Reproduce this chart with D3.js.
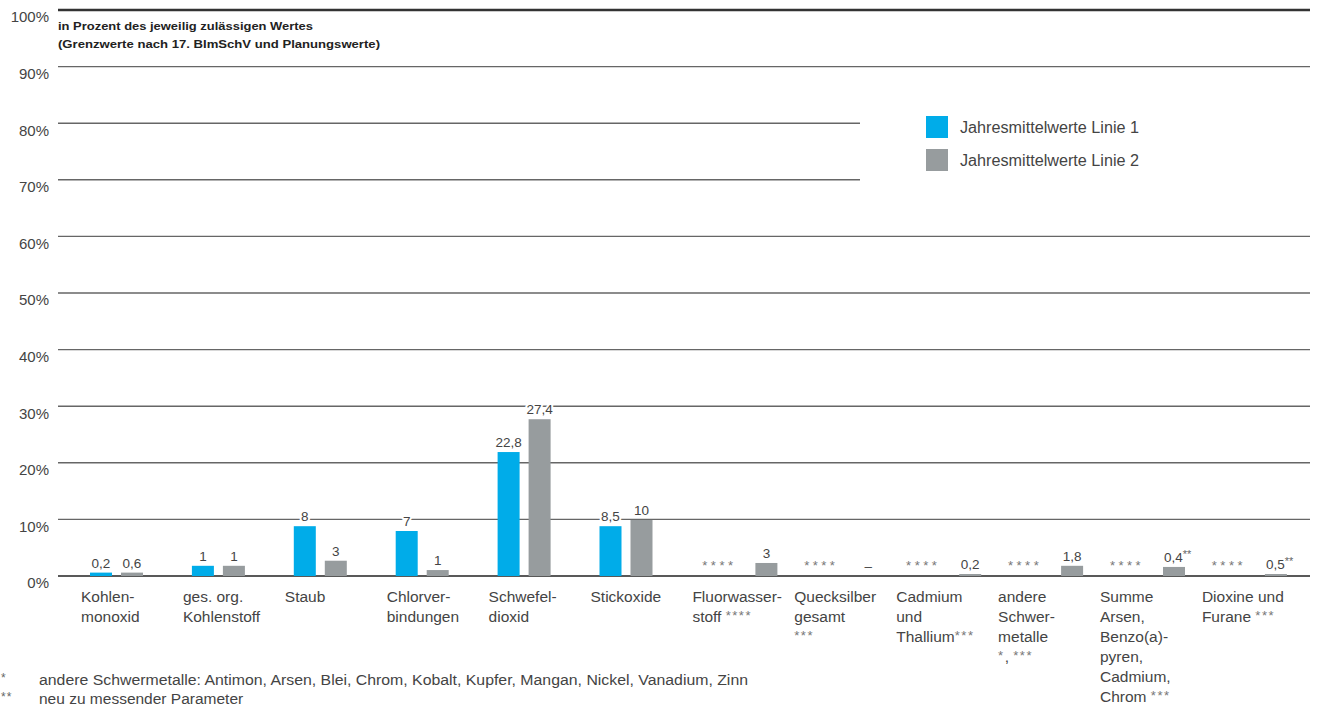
<!DOCTYPE html>
<html>
<head>
<meta charset="utf-8">
<script src="https://cdn.jsdelivr.net/npm/d3@7"></script>
<style>
  html, body { margin: 0; padding: 0; background: #fff; }
  svg { display: block; font-family: "Liberation Sans", Arial, sans-serif; }
</style>
</head>
<body>
<svg id="chart" width="1317" height="709"></svg>
<script>
// ---------- data ----------
const categories = [
  "Kohlenmonoxid", "ges. org. Kohlenstoff", "Staub", "Chlorverbindungen",
  "Schwefeldioxid", "Stickoxide", "Fluorwasserstoff", "Quecksilber gesamt",
  "Cadmium und Thallium", "andere Schwermetalle",
  "Summe Arsen, Benzo(a)pyren, Cadmium, Chrom", "Dioxine und Furane"
];
const categoryLines = [
  ["Kohlen-", "monoxid"],
  ["ges. org.", "Kohlenstoff"],
  ["Staub"],
  ["Chlorver-", "bindungen"],
  ["Schwefel-", "dioxid"],
  ["Stickoxide"],
  ["Fluorwasser-", "stoff ****"],
  ["Quecksilber", "gesamt", "***"],
  ["Cadmium", "und", "Thallium***"],
  ["andere", "Schwer-", "metalle", "*, ***"],
  ["Summe", "Arsen,", "Benzo(a)-", "pyren,", "Cadmium,", "Chrom ***"],
  ["Dioxine und", "Furane ***"]
];
const seriesNames = ["Jahresmittelwerte Linie 1", "Jahresmittelwerte Linie 2"];
// bar heights in % as drawn in the picture (null = not measured)
const linie1 = [0.6, 1.8, 8.8, 7.95, 21.9, 8.8, null, null, null, null, null, null];
const linie2 = [0.6, 1.8, 2.7, 1.05, 27.7, 9.9, 2.3, 0, 0.35, 1.8, 1.6, 0.35];
// printed value labels
const labels1 = ["0,2", "1", "8", "7", "22,8", "8,5", "****", "****", "****", "****", "****", "****"];
const labels2 = ["0,6", "1", "3", "1", "27,4", "10", "3", "–", "0,2", "1,8", "0,4**", "0,5**"];
const yTicks = [0, 10, 20, 30, 40, 50, 60, 70, 80, 90, 100];
const titleLines = ["in Prozent des jeweilig zulässigen Wertes", "(Grenzwerte nach 17. BImSchV und Planungswerte)"];
const footnotes = [
  ["*", "andere Schwermetalle: Antimon, Arsen, Blei, Chrom, Kobalt, Kupfer, Mangan, Nickel, Vanadium, Zinn"],
  ["**", "neu zu messender Parameter"]
];

// ---------- layout ----------
const svg = d3.select("#chart");
const plotLeft = 58, plotRight = 1310;
const legendCut = 860;
const textColor = "#444";

const y = d3.scaleLinear().domain([0, 100]).range([576, 10]);
const x0 = d3.scaleBand().domain(categories).range([81, 81 + 12 * 101.9]).padding(0);
const xFull = d3.scaleBand().domain(seriesNames).range([9, 62]).paddingInner(9 / 31).paddingOuter(0);
const xMissing = d3.scaleBand().domain(seriesNames).range([14, 85]).paddingInner(27 / 49).paddingOuter(0);
const color = d3.scaleOrdinal().domain(seriesNames).range(["#00ACE9", "#979C9E"]);

// legend box region (gridlines stop before it)
const legendY0 = 100, legendY1 = 190;

// ---------- gridlines ----------
svg.append("g").selectAll("line").data(yTicks).join("line")
  .attr("x1", plotLeft)
  .attr("x2", d => (y(d) > legendY0 && y(d) < legendY1) ? legendCut : plotRight)
  .attr("y1", d => y(d)).attr("y2", d => y(d))
  .attr("stroke", d => d === 100 ? "#333" : d === 0 ? "#222" : "#666")
  .attr("stroke-width", d => d === 100 ? 2.5 : d === 0 ? 1.6 : 1.4);

// ---------- y axis labels ----------
const yAxis = svg.append("g")
  .attr("transform", `translate(49,7)`)
  .call(d3.axisLeft(y).tickValues(yTicks).tickSize(0).tickPadding(0).tickFormat(d => d + "%"));
yAxis.select(".domain").remove();
yAxis.selectAll("text")
  .attr("fill", textColor)
  .style("font-size", "15px")
  .style("font-family", "'Liberation Sans', Arial, sans-serif");

// ---------- title ----------
svg.append("g").selectAll("text").data(titleLines).join("text")
  .attr("x", 58).attr("y", (d, i) => 30 + i * 18)
  .attr("font-size", 11.5).attr("font-weight", "bold").attr("fill", "#222")
  .attr("textLength", (d, i) => i === 0 ? 255 : 322)
  .attr("lengthAdjust", "spacingAndGlyphs")
  .text(d => d);

// ---------- bars ----------
const rows = categories.map((c, i) => ({
  cat: c,
  inner: linie1[i] === null ? xMissing : xFull,
  items: [
    { s: seriesNames[0], v: linie1[i], label: labels1[i] },
    { s: seriesNames[1], v: linie2[i], label: labels2[i] }
  ]
}));

const groups = svg.append("g").selectAll("g").data(rows).join("g")
  .attr("transform", d => `translate(${x0(d.cat)},0)`);

groups.each(function (row) {
  const g = d3.select(this);
  const inner = row.inner;
  row.items.forEach(it => {
    const cx = inner(it.s) + inner.bandwidth() / 2;
    if (it.v !== null && it.v > 0) {
      g.append("rect")
        .attr("x", inner(it.s)).attr("y", y(it.v))
        .attr("width", inner.bandwidth()).attr("height", y(0) - y(it.v))
        .attr("fill", color(it.s));
    }
    if (it.v === null) {
      g.append("text")
        .attr("x", cx + 2).attr("y", y(0) - 6)
        .attr("text-anchor", "middle")
        .attr("font-size", 13).attr("fill", "#777")
        .attr("letter-spacing", 3.5)
        .text(it.label);
    } else {
      const m = it.label.match(/^([^*]*)(\**)$/);
      const t = g.append("text")
        .attr("x", cx).attr("y", y(it.v) - 5)
        .attr("text-anchor", "middle")
        .attr("font-size", 13.5).attr("fill", textColor)
        .attr("stroke", "#fff").attr("stroke-width", 4)
        .attr("paint-order", "stroke").attr("stroke-linejoin", "round");
      t.append("tspan").text(m[1]);
      if (m[2]) {
        t.attr("text-anchor", "start").attr("x", cx - 10);
        t.append("tspan").attr("font-size", 11).attr("dy", -4).attr("fill", "#666").text(m[2]);
      }
    }
  });
});

// ---------- category labels ----------
function writeLine(textSel, line) {
  const parts = line.split(/(\*+)/).filter(p => p.length);
  let raised = false;
  parts.forEach(p => {
    if (/^\*+$/.test(p)) {
      textSel.append("tspan").attr("font-size", 13).attr("fill", "#777")
        .attr("dy", raised ? 0 : -2).attr("letter-spacing", 1.5).text(p);
      raised = true;
    } else {
      textSel.append("tspan").attr("dy", raised ? 2 : 0).text(p);
      raised = false;
    }
  });
}
const catG = svg.append("g").selectAll("g").data(categories).join("g")
  .attr("transform", d => `translate(${x0(d)},0)`);
catG.each(function (c, i) {
  const g = d3.select(this);
  categoryLines[i].forEach((line, k) => {
    const t = g.append("text").attr("x", 0).attr("y", 602 + k * 20)
      .attr("font-size", 15.5).attr("fill", textColor);
    writeLine(t, line);
  });
});

// ---------- legend ----------
const legend = svg.append("g").selectAll("g").data(seriesNames).join("g")
  .attr("transform", (d, i) => `translate(926,${116 + i * 33})`);
legend.append("rect").attr("width", 22).attr("height", 22).attr("fill", d => color(d));
legend.append("text").attr("x", 34).attr("y", 17)
  .attr("font-size", 16).attr("fill", textColor)
  .attr("textLength", 179).attr("lengthAdjust", "spacingAndGlyphs")
  .text(d => d);

// ---------- footnotes ----------
const fn = svg.append("g").selectAll("g").data(footnotes).join("g")
  .attr("transform", (d, i) => `translate(0,${685 + i * 19})`);
fn.append("text").attr("x", 1).attr("y", -3).attr("font-size", 12).attr("fill", "#666")
  .attr("letter-spacing", 1).text(d => d[0]);
fn.append("text").attr("x", 39).attr("y", 0).attr("font-size", 15.5).attr("fill", textColor)
  .attr("textLength", (d, i) => i === 0 ? 709 : null)
  .attr("lengthAdjust", "spacingAndGlyphs")
  .text(d => d[1]);
</script>
</body>
</html>
